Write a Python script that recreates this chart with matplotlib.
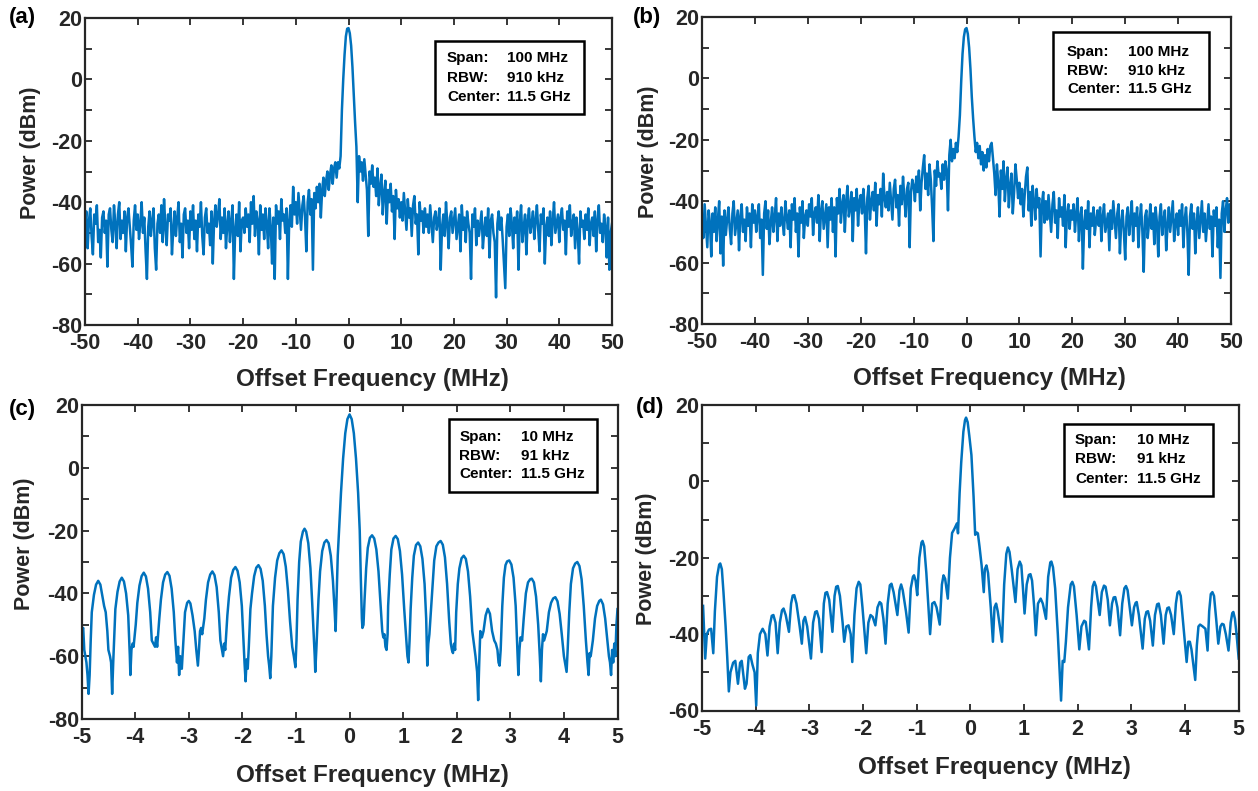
import numpy as np
import matplotlib
matplotlib.use('Agg')
import matplotlib.pyplot as plt
from matplotlib.patches import Rectangle

plt.rcParams['font.family'] = ['Liberation Sans', 'DejaVu Sans']
plt.rcParams['font.weight'] = 'bold'
plt.rcParams['axes.unicode_minus'] = False

# ---------------- data ----------------
freq_wide = np.linspace(-50, 50, 401)   # MHz, 0.25 MHz grid

power_a = [
    -48,-43,-55,-46,-42,-51,-57,-44,-47,-41,-53,-49,-58,-45,-43,-50,-46,-61,-44,-42,
    -49,-53,-41,-47,-55,-44,-40,-52,-46,-50,-43,-56,-45,-42,-48,-54,-61,-46,-41,-49,
    -44,-52,-47,-40,-50,-45,-56,-65,-48,-43,-51,-46,-42,-55,-62,-47,-44,-50,-41,-53,
    -39,-48,-54,-44,-46,-42,-57,-49,-43,-51,-45,-40,-53,-47,-58,-44,-42,-50,-46,-55,
    -43,-49,-41,-52,-46,-56,-44,-48,-40,-51,-57,-45,-42,-50,-47,-54,-43,-60,-46,-41,
    -48,-44,-39,-52,-45,-50,-42,-55,-47,-43,-53,-46,-41,-65,-49,-44,-51,-40,-56,-46,
    -45,-50,-42,-48,-44,-53,-40,-47,-38,-51,-43,-46,-57,-41,-49,-44,-52,-42,-47,-55,
    -42,-48,-60,-45,-65,-41,-47,-43,-52,-39,-46,-44,-50,-42,-65,-46,-41,-48,-35,-44,
    -40,-47,-37,-43,-49,-41,-38,-45,-56,-40,-36,-44,-39,-62,-37,-42,-35,-40,-34,-45,
    -36,-32,-38,-33,-30,-36,-31,-28,-34,-29,-27,-32,-27,-29,-25,-10,0,8,14,16.5,
    16.7,15,11,4,-5,-14,-22,-40,-25,-30,-27,-33,-26,-31,-36,-51,-30,-34,-28,-35,
    -32,-38,-29,-41,-35,-31,-44,-37,-33,-47,-36,-40,-34,-43,-38,-52,-36,-42,-39,-45,
    -40,-46,-37,-43,-49,-39,-45,-42,-51,-41,-38,-47,-44,-57,-40,-46,-43,-50,-42,-48,
    -44,-50,-41,-47,-53,-45,-43,-49,-46,-42,-62,-48,-44,-51,-40,-47,-55,-45,-43,-50,
    -46,-42,-52,-48,-44,-56,-41,-49,-45,-53,-43,-47,-50,-65,-44,-48,-42,-54,-46,-51,
    -47,-43,-55,-49,-45,-51,-42,-58,-46,-44,-50,-53,-71,-47,-43,-49,-45,-52,-60,-68,
    -48,-44,-51,-42,-47,-55,-45,-50,-43,-62,-46,-41,-53,-48,-44,-57,-46,-42,-50,-47,
    -43,-52,-46,-41,-49,-56,-44,-47,-42,-60,-48,-45,-51,-43,-54,-46,-40,-50,-47,-44,
    -53,-45,-42,-49,-46,-57,-43,-48,-41,-51,-47,-44,-55,-45,-50,-60,-43,-48,-46,-52,
    -44,-49,-42,-54,-47,-45,-51,-43,-56,-46,-41,-50,-47,-53,-44,-48,-58,-45,-62,-50,
    -47,
]

power_b = [
    -45,-52,-41,-48,-55,-43,-47,-58,-44,-50,-42,-53,-46,-40,-57,-45,-61,-43,-51,-46,
    -42,-49,-54,-44,-40,-51,-47,-43,-56,-45,-41,-50,-46,-53,-42,-48,-44,-55,-41,-47,
    -43,-50,-45,-41,-52,-46,-64,-44,-40,-49,-43,-54,-47,-42,-50,-45,-39,-53,-44,-48,
    -42,-47,-51,-40,-45,-49,-43,-55,-41,-46,-39,-50,-44,-58,-42,-47,-40,-52,-45,-43,
    -48,-41,-45,-39,-51,-44,-42,-47,-38,-53,-43,-40,-49,-45,-41,-55,-42,-46,-39,-50,
    -42,-58,-39,-44,-36,-47,-41,-38,-50,-40,-35,-45,-42,-37,-53,-39,-43,-36,-48,-40,
    -38,-44,-36,-42,-57,-39,-35,-46,-40,-37,-43,-34,-48,-38,-41,-36,-45,-31,-39,-42,
    -37,-43,-34,-40,-46,-36,-33,-42,-38,-48,-35,-41,-32,-39,-45,-36,-34,-55,-37,-33,
    -35,-40,-32,-37,-30,-43,-34,-29,-25,-36,-31,-38,-28,-33,-42,-53,-30,-35,-27,-32,
    -31,-36,-28,-33,-27,-30,-43,-25,-20,-27,-23,-26,-21,-24,-19,-12,-1,8,13.5,16,
    16.4,14.5,10,3,-6,-13,-19,-24,-21,-26,-22,-28,-24,-30,-25,-29,-23,-27,-22,-21,
    -26,-31,-38,-28,-34,-45,-30,-36,-27,-40,-33,-29,-42,-35,-31,-44,-37,-28,-33,-39,
    -34,-41,-36,-45,-38,-32,-29,-43,-37,-48,-35,-40,-46,-36,-42,-39,-58,-41,-37,-47,
    -40,-46,-38,-44,-50,-41,-37,-47,-43,-52,-39,-45,-42,-48,-38,-55,-44,-41,-49,-43,
    -46,-41,-50,-44,-39,-53,-45,-42,-62,-47,-43,-49,-40,-55,-44,-48,-42,-51,-46,-43,
    -48,-42,-53,-45,-41,-50,-47,-44,-56,-43,-49,-40,-46,-52,-44,-41,-57,-47,-43,-50,
    -59,-45,-42,-51,-46,-40,-53,-44,-48,-42,-55,-46,-41,-50,-63,-45,-43,-52,-47,-41,
    -49,-44,-54,-42,-47,-58,-45,-41,-51,-46,-43,-56,-48,-42,-50,-45,-40,-53,-47,-44,
    -51,-43,-48,-41,-55,-46,-42,-50,-64,-45,-41,-49,-44,-57,-47,-42,-52,-46,-40,-50,
    -44,-53,-47,-41,-49,-45,-58,-43,-48,-42,-55,-46,-65,-44,-40,-50,-43,-39,-47,-41,
    -45,
]

freq_c = [
    -5.00,-4.97,-4.95,-4.93,-4.91,-4.89,-4.87,-4.85,-4.83,
    -4.81,-4.77,-4.73,-4.69,-4.65,-4.61,-4.58,-4.55,-4.52,-4.50,-4.47,-4.45,-4.43,-4.41,
    -4.37,-4.33,-4.29,-4.25,-4.21,-4.17,-4.13,-4.10,-4.09,-4.07,-4.05,-4.03,
    -3.99,-3.96,-3.92,-3.88,-3.84,-3.80,-3.76,-3.72,-3.69,-3.66,-3.63,-3.61,-3.59,
    -3.55,-3.52,-3.48,-3.44,-3.40,-3.36,-3.32,-3.28,-3.25,-3.22,-3.20,-3.18,-3.16,-3.13,-3.11,
    -3.07,-3.03,-3.00,-2.97,-2.93,-2.89,-2.86,-2.83,-2.81,-2.79,-2.77,-2.75,
    -2.71,-2.68,-2.64,-2.60,-2.56,-2.52,-2.48,-2.44,-2.41,-2.38,-2.36,-2.34,-2.32,
    -2.28,-2.25,-2.21,-2.17,-2.13,-2.09,-2.05,-2.01,-1.98,-1.96,-1.94,-1.92,-1.90,-1.88,
    -1.85,-1.82,-1.78,-1.74,-1.70,-1.66,-1.62,-1.58,-1.55,-1.52,-1.50,-1.48,-1.46,
    -1.43,-1.39,-1.35,-1.31,-1.27,-1.23,-1.19,-1.15,-1.11,-1.07,-1.04,-1.01,-0.99,
    -0.97,-0.94,-0.91,-0.87,-0.84,-0.81,-0.77,-0.73,-0.70,-0.67,-0.65,-0.64,-0.62,
    -0.58,-0.55,-0.51,-0.47,-0.43,-0.39,-0.35,-0.31,-0.28,-0.26,
    -0.24,-0.22,-0.19,-0.16,-0.12,-0.08,-0.04,0.00,0.04,0.08,0.12,0.16,0.19,0.21,0.23,0.24,0.26,
    0.28,0.31,0.34,0.38,0.42,0.46,0.50,0.54,0.58,0.61,0.63,0.65,0.67,0.69,0.71,
    0.72,0.75,0.78,0.82,0.86,0.90,0.94,0.98,1.02,1.06,1.08,1.10,1.12,
    1.14,1.17,1.20,1.24,1.28,1.32,1.36,1.40,1.43,1.45,1.47,1.49,
    1.54,1.58,1.62,1.66,1.70,1.74,1.78,1.82,1.86,1.89,1.91,1.93,1.95,1.97,
    1.99,2.02,2.05,2.09,2.13,2.17,2.21,2.25,2.29,2.32,2.35,2.38,2.40,2.42,2.44,
    2.47,2.50,2.54,2.58,2.62,2.66,2.70,2.73,2.76,2.78,2.80,2.82,
    2.85,2.88,2.91,2.94,2.98,3.02,3.06,3.10,3.13,3.15,3.17,3.19,3.22,
    3.25,3.29,3.33,3.37,3.40,3.44,3.48,3.52,3.55,3.57,3.59,3.61,3.63,
    3.68,3.72,3.76,3.80,3.84,3.88,3.92,3.96,4.00,4.03,4.05,4.07,
    4.10,4.13,4.17,4.21,4.25,4.29,4.33,4.37,4.41,4.44,4.46,4.48,4.50,
    4.54,4.58,4.62,4.66,4.69,4.73,4.77,4.81,4.84,4.86,4.88,4.90,4.92,4.94,4.96,4.98,5.00,
]
power_c = [
    -52,-51,-58,-60,-62,-66,-72,-66,-55,
    -46,-40.5,-37.2,-36,-37.2,-41,-44,-46,-52,-58,-60,-62,-72,-62,
    -45,-39.5,-36.2,-35,-36.2,-40,-47,-60,-66,-58,-56,-57,
    -50,-43,-37.5,-34.5,-33.4,-34.6,-38.5,-46,-55,-56,-57,-54,-57,
    -48,-42,-36.5,-34,-33.2,-34.4,-38.5,-46,-55,-62,-57,-66,-60,-64,-58,
    -46,-43,-42.4,-43.2,-47,-52,-58,-63,-58,-52,-51,-53,
    -48,-42,-36.5,-34,-33,-34.2,-38,-46,-55,-58,-60,-56,-58,
    -47,-41,-35,-32.5,-31.6,-32.8,-36.5,-44,-55,-62,-68,-61,-64,-57,
    -45,-40,-34.5,-31.8,-31,-32.2,-36,-44,-53,-60,-63,-67,-60,
    -44,-35,-29.5,-27.2,-26.3,-27.5,-31.5,-39,-49,-57,-60,-63.5,-55,
    -42,-30,-23.5,-20.3,-19.4,-20.3,-24,-32,-42,-53,-60,-65,-58,
    -42,-33,-26.5,-23.8,-23,-24,-28,-36,-45,-52,
    -40,-28,-18,-8,3,11,15.5,17,15.5,11,3,-8,-20,-35,-48,-51,-50,
    -42,-32,-25.5,-22.3,-21.5,-22.5,-26,-33,-44,-52,-54,-53,-57,-58,-53,
    -44,-34,-26,-22.5,-21.7,-22.7,-26.5,-34,-45,-55,-60,-62,-55,
    -45,-35,-28,-24.6,-23.8,-25,-29,-37,-48,-63,-56,-53,
    -40,-29.5,-25,-23.8,-23.3,-24.5,-28.5,-37,-49,-56,-58,-59,-56,-58,
    -46,-37,-32,-28.8,-28,-29,-33,-41,-52,-56,-60,-65,-74,-62,-52,
    -54,-52,-47,-44.9,-46.5,-52,-55,-56,-58,-62,-63,-58,
    -44,-35,-31,-29.8,-29.5,-30.8,-35,-44,-57,-66,-58,-54,-55,
    -48,-40,-36.5,-35.5,-35.3,-36.5,-41,-50,-60,-68,-58,-53,-55,
    -52,-46,-43,-41.6,-41.2,-42.5,-46.5,-53,-60,-63,-65,-58,
    -46,-37,-32,-30.5,-30,-31.3,-35.5,-44,-55,-62,-66,-59,-60,
    -55,-48,-44,-42.4,-42,-43.5,-48,-55,-60,-62,-66,-58,-62,-56,-60,-50,-45,
]

freq_d = [
    -4.98,-4.94,-4.91,-4.87,-4.83,-4.79,-4.76,-4.72,-4.68,-4.66,
    -4.63,-4.60,-4.56,-4.53,-4.50,-4.47,-4.42,-4.38,-4.33,-4.29,
    -4.26,-4.20,-4.17,-4.13,-4.10,-4.06,-4.02,-3.99,-3.96,-3.92,
    -3.87,-3.82,-3.78,-3.74,-3.70,-3.67,-3.63,-3.59,-3.55,-3.51,
    -3.48,-3.44,-3.38,-3.34,-3.31,-3.28,-3.24,-3.18,-3.14,-3.11,
    -3.08,-3.04,-2.97,-2.93,-2.89,-2.86,-2.82,-2.77,-2.73,-2.70,
    -2.67,-2.63,-2.57,-2.53,-2.50,-2.47,-2.43,-2.38,-2.35,-2.31,
    -2.27,-2.23,-2.20,-2.16,-2.12,-2.08,-2.05,-2.01,-1.97,-1.94,
    -1.90,-1.86,-1.82,-1.77,-1.73,-1.69,-1.66,-1.62,-1.58,-1.54,
    -1.50,-1.47,-1.43,-1.36,-1.32,-1.29,-1.26,-1.20,-1.15,-1.11,
    -1.07,-1.05,-1.02,-0.99,-0.95,-0.91,-0.89,-0.86,-0.82,-0.78,
    -0.75,-0.71,-0.67,-0.63,-0.57,-0.53,-0.50,-0.47,-0.42,-0.38,
    -0.34,-0.30,-0.25,-0.23,-0.20,-0.17,-0.13,-0.10,-0.08,-0.05,
    -0.02,0.02,0.06,0.09,0.12,0.14,0.17,0.21,0.25,0.27,
    0.30,0.33,0.38,0.42,0.45,0.48,0.51,0.59,0.63,0.67,
    0.70,0.73,0.77,0.84,0.88,0.92,0.95,0.98,1.01,1.05,
    1.09,1.12,1.15,1.19,1.22,1.26,1.31,1.35,1.41,1.45,
    1.49,1.51,1.54,1.58,1.63,1.69,1.72,1.75,1.78,1.82,
    1.87,1.90,1.93,1.98,2.03,2.07,2.12,2.15,2.21,2.25,
    2.28,2.31,2.34,2.41,2.45,2.49,2.52,2.56,2.60,2.64,
    2.67,2.70,2.74,2.79,2.83,2.87,2.90,2.93,2.97,3.01,
    3.05,3.08,3.10,3.14,3.21,3.25,3.28,3.31,3.35,3.40,
    3.44,3.48,3.51,3.55,3.60,3.64,3.67,3.70,3.74,3.79,
    3.83,3.86,3.89,3.92,3.97,4.03,4.06,4.09,4.12,4.19,
    4.22,4.25,4.28,4.33,4.38,4.42,4.45,4.48,4.51,4.54,
    4.58,4.62,4.66,4.69,4.72,4.76,4.81,4.85,4.88,4.90,
    4.93,4.96,5.00,
]
power_d = [
    -32.6,-46.4,-40,-38.8,-38.6,-45,-34,-25,-21.8,-21.5,
    -23,-29,-38,-46,-55,-50,-47.5,-47,-53,-47.5,
    -47,-54.3,-53,-46,-45.5,-48,-50,-58.7,-45,-40,
    -38.6,-40,-45.6,-38,-35.2,-35,-37,-45,-37,-33.8,
    -33.3,-35,-39.4,-32,-29.9,-29.8,-32,-38,-42.5,-36.5,
    -35.5,-38,-46.4,-37,-34.2,-34,-36,-44.7,-32,-29.2,
    -29,-31,-39.4,-30,-27.6,-27.4,-30,-37,-42,-38,
    -37.7,-40,-47.3,-35,-28,-26.3,-27,-33,-40,-45,
    -37,-35,-35.5,-37.7,-33,-31.6,-32,-36,-42.5,-32,
    -27.2,-26.8,-29,-35,-28.5,-27,-28.5,-34,-39.6,-28,
    -25,-24.6,-26,-29.8,-20,-16,-15.6,-17,-24,-33,
    -40,-32,-31.6,-33,-37.5,-27,-24.6,-25.5,-30.7,-20,
    -13.5,-12.5,-11,-13.6,-3,5,13,16,16.7,15.5,
    12,6.9,-4,-14,-13.4,-13.6,-17,-22,-29,-23,
    -22,-24,-33,-42,-33,-32,-34,-42,-27,-19,
    -17.3,-18.5,-23,-31.6,-23,-21,-22,-28,-34.6,-27,
    -24.5,-24.3,-26,-33,-40.3,-32,-30.7,-32,-36,-25,
    -21.2,-21,-22.5,-28,-40,-57.4,-47,-47.3,-42,-33,
    -27,-26.3,-27.5,-35,-44,-38,-36.5,-36.8,-44,-33,
    -27.5,-26.3,-27.5,-35,-29,-27.3,-27.6,-31,-37.7,-32,
    -30.4,-30.3,-33,-40.3,-32,-28,-27.4,-28.5,-33,-37.7,
    -33,-31.8,-31.6,-35,-43.8,-36,-34.2,-34,-36.5,-43,
    -35,-32.2,-32,-35,-42.5,-35,-33.2,-33,-35,-40,
    -32,-29.2,-28.8,-30,-38,-47.3,-42,-42,-44,-52,
    -43,-38,-37.5,-38,-38.6,-44.3,-34,-29.5,-29,-30,
    -36,-42.5,-38,-37.3,-37.5,-40,-44.3,-37,-34.5,-34.2,
    -36,-40,-46.4,
]

panel_labels = ['(a)', '(b)', '(c)', '(d)']
info_labels = ['Span:', 'RBW:', 'Center:']
info_wide = ['100 MHz', '910 kHz', '11.5 GHz']
info_narrow = ['10 MHz', '91 kHz', '11.5 GHz']
xticks_wide = list(range(-50, 51, 10))
xticks_narrow = list(range(-5, 6, 1))

for name, xs, ys in (('a', freq_wide, power_a), ('b', freq_wide, power_b),
                     ('c', freq_c, power_c), ('d', freq_d, power_d)):
    if len(xs) != len(ys):
        raise SystemExit(f'length mismatch {name}: {len(xs)} vs {len(ys)}')

# ---------------- figure ----------------
W, H = 1258, 791
fig = plt.figure(figsize=(W / 100, H / 100), dpi=100)
LINE = '#0072BD'
DARK = '#262626'

def px_axes(l, t, r, b):
    return fig.add_axes([l / W, 1 - b / H, (r - l) / W, (b - t) / H])

def style(ax, x, y, xlim, xticks, ylim, box, info, lab_pos, ypos_label, xpos_label, panel, ppos, lw):
    ax.plot(x, y, color=LINE, lw=lw)
    ax.set_xlim(*xlim)
    ax.set_ylim(*ylim)
    ax.set_xticks(xticks)
    ax.set_xticklabels([str(v) for v in xticks])
    yt = list(range(ylim[0], ylim[1] + 1, 10))
    ax.set_yticks(yt)
    ax.set_yticklabels([str(v) if v % 20 == 0 else '' for v in yt])
    ax.tick_params(direction='in', top=True, right=True, length=5, width=1.3,
                   colors=DARK, labelsize=15.5)
    ax.tick_params(axis='x', pad=6)
    ax.tick_params(axis='y', pad=2)
    for lbl in ax.get_xticklabels() + ax.get_yticklabels():
        lbl.set_fontweight('bold')
    for s in ax.spines.values():
        s.set_linewidth(1.6)
        s.set_color(DARK)
    x0, y0, x1, y1 = box
    ax.add_patch(Rectangle((x0, y0), x1 - x0, y1 - y0, transform=ax.transAxes,
                           facecolor='white', edgecolor='black', lw=1.8, zorder=5))
    lx, vx, rows = lab_pos
    for k in range(3):
        ax.text(lx, rows[k], info_labels[k], transform=ax.transAxes, ha='left',
                va='center', fontsize=11, weight='bold', zorder=6)
        ax.text(vx, rows[k], info[k], transform=ax.transAxes, ha='left',
                va='center', fontsize=11, weight='bold', zorder=6)
    ax.text(ypos_label[0], ypos_label[1], 'Power (dBm)', transform=ax.transAxes,
            rotation=90, ha='center', va='center', fontsize=15.5, weight='bold', color=DARK)
    ax.text(xpos_label[0], xpos_label[1], 'Offset Frequency (MHz)', transform=ax.transAxes,
            ha='center', va='center', fontsize=17.5, weight='bold', color=DARK)
    fig.text(ppos[0] / W, 1 - ppos[1] / H, panel, ha='center', va='center',
             fontsize=16, weight='bold', color='black')

ax_a = px_axes(85, 18, 612, 325)
style(ax_a, freq_wide, power_a, (-50, 50), xticks_wide, (-80, 20),
      (0.664, 0.687, 0.947, 0.925), info_wide,
      (0.687, 0.801, (0.870, 0.806, 0.743)),
      (-0.104, 0.56), (0.545, -0.176), panel_labels[0], (22, 18), 1.8)

ax_b = px_axes(702, 17, 1231, 324)
style(ax_b, freq_wide, power_b, (-50, 50), xticks_wide, (-80, 20),
      (0.664, 0.700, 0.958, 0.951), info_wide,
      (0.690, 0.805, (0.887, 0.825, 0.765)),
      (-0.102, 0.56), (0.544, -0.179), panel_labels[1], (647, 18), 1.8)

ax_c = px_axes(81.6, 405, 617.5, 719)
style(ax_c, freq_c, power_c, (-5, 5), xticks_narrow, (-80, 20),
      (0.685, 0.723, 0.961, 0.955), info_narrow,
      (0.705, 0.820, (0.899, 0.838, 0.779)),
      (-0.107, 0.557), (0.543, -0.180), panel_labels[2], (22, 410), 1.8)

ax_d = px_axes(702, 405, 1238.7, 710.5)
style(ax_d, freq_d, power_d, (-5, 5), xticks_narrow, (-60, 20),
      (0.675, 0.702, 0.952, 0.938), info_narrow,
      (0.695, 0.810, (0.885, 0.823, 0.759)),
      (-0.104, 0.496), (0.545, -0.185), panel_labels[3], (650, 408), 1.8)

fig.savefig('out.png', dpi=100)
